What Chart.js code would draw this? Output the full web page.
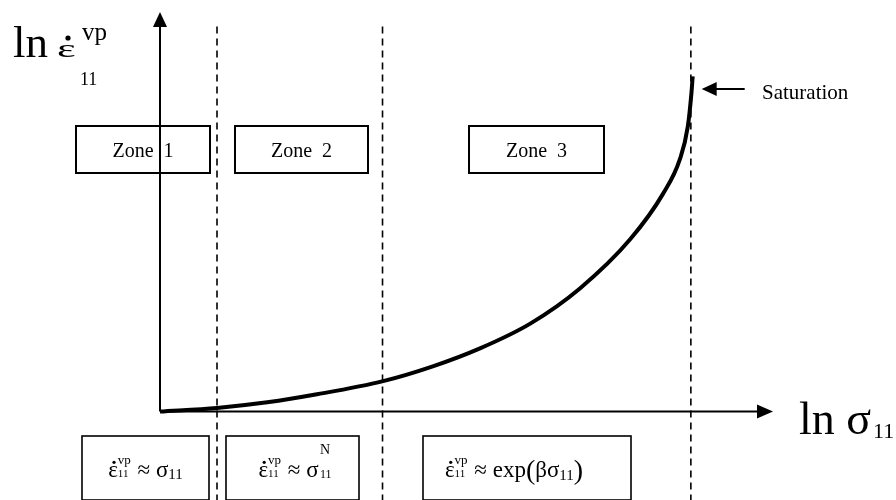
<!DOCTYPE html>
<html>
<head>
<meta charset="utf-8">
<script src="https://cdn.jsdelivr.net/npm/chart.js@4.4.1/dist/chart.umd.min.js"></script>
<style>
  html, body { margin: 0; padding: 0; background: #fff; }
  canvas { display: block; }
</style>
</head>
<body>
<canvas id="chart" width="896" height="500"></canvas>
<script>
// Кривая ln ε̇ = f(ln σ) (оси 0..100 условных единиц)
const curveX = [0, 9.3, 17.5, 25.6, 36.4, 44.5, 52.2, 60.4, 68.5, 76.7, 82.1, 84.8, 86.1, 86.7, 86.9];
const curveY = [0, 0.9, 2.3, 4.3, 7.6, 11.3, 15.8, 22.0, 30.8, 43.1, 54.6, 63.1, 71.3, 79.8, 83.9];

// Границы зон (пунктир)
const zoneBounds = [9.3, 36.3, 86.6];
const dashRange = [-22.5, 97.5];
const zoneNames = ['Zone  1', 'Zone  2', 'Zone  3'];

const SERIF = '"Liberation Serif", "Times New Roman", serif';
const font = s => s + 'px ' + SERIF;

// Рамки зон и формул в координатах осей
const zoneBoxes = [[-13.7, 8.2], [12.2, 33.9], [50.4, 72.4]];
const zoneBoxY = [71.5, 59.7];
const formulaBoxes = [[-12.7, 8.0], [10.8, 32.5], [42.9, 76.8]];
const formulaBoxY = [-6.1, -22.1];
const formulaShift = [0, 3, -13];

const eps = [{ t: 'ε', s: 23, dot: true }, { sup: 'vp', sub: '11', s: 13, subS: 11, supDy: -13, subDy: 0 }];
const formulas = [
    eps.concat([{ t: ' ≈ ', s: 23 }, { t: 'σ', s: 23 }, { t: '11', s: 15, dy: 2 }]),
    eps.concat([{ t: ' ≈ ', s: 23 }, { t: 'σ', s: 23 }, { t: ' ', s: 6 },
        { sup: 'N', sub: '11', s: 14, subS: 12, supDy: -23, subDy: 1 }]),
    eps.concat([{ t: ' ≈ ', s: 23 }, { t: 'exp', s: 23 }, { t: '(', s: 28, dy: 2 }, { t: 'βσ', s: 23 },
        { t: '11', s: 15, dy: 3 }, { t: ')', s: 28, dy: 2 }])
];

function runWidth(ctx, r) {
    ctx.font = font(r.s);
    if (r.sup !== undefined) {
        const a = ctx.measureText(r.sup).width;
        ctx.font = font(r.subS);
        return Math.max(a, ctx.measureText(r.sub).width) + 1;
    }
    return ctx.measureText(r.t).width;
}

function drawRuns(ctx, runs, cx, base) {
    let total = 0;
    runs.forEach(r => total += runWidth(ctx, r));
    let x = cx - total / 2;
    ctx.textAlign = 'left';
    ctx.textBaseline = 'alphabetic';
    runs.forEach(r => {
        const w = runWidth(ctx, r);
        if (r.sup !== undefined) {
            ctx.font = font(r.s);
            ctx.fillText(r.sup, x, base + r.supDy);
            ctx.font = font(r.subS);
            ctx.fillText(r.sub, x, base + r.subDy);
        } else {
            ctx.font = font(r.s);
            ctx.fillText(r.t, x, base + (r.dy || 0));
            if (r.dot) {
                ctx.beginPath();
                ctx.arc(x + w / 2 + 1, base - r.s * 0.64, r.s * 0.07, 0, Math.PI * 2);
                ctx.fill();
            }
        }
        x += w;
    });
}

function arrowHead(ctx, tx, ty, dir) {
    ctx.beginPath();
    if (dir === 'up') {
        ctx.moveTo(tx, ty); ctx.lineTo(tx - 7, ty + 15); ctx.lineTo(tx + 7, ty + 15);
    } else if (dir === 'right') {
        ctx.moveTo(tx, ty); ctx.lineTo(tx - 16, ty - 7); ctx.lineTo(tx - 16, ty + 7);
    } else {
        ctx.moveTo(tx, ty); ctx.lineTo(tx + 15, ty - 7); ctx.lineTo(tx + 15, ty + 7);
    }
    ctx.closePath();
    ctx.fill();
}

const diagram = {
    id: 'diagram',
    beforeDatasetsDraw(chart) {
        const { ctx, scales: { x, y } } = chart;
        const x0 = x.getPixelForValue(0), y0 = y.getPixelForValue(0);
        const xTip = x.getPixelForValue(100), yTip = y.getPixelForValue(100);
        ctx.save();
        ctx.strokeStyle = '#000';
        ctx.fillStyle = '#000';
        ctx.lineWidth = 2;
        ctx.beginPath();
        ctx.moveTo(x0, y0); ctx.lineTo(x0, yTip + 10);
        ctx.moveTo(x0, y0); ctx.lineTo(xTip - 10, y0);
        ctx.stroke();
        arrowHead(ctx, x0, yTip, 'up');
        arrowHead(ctx, xTip, y0, 'right');
        ctx.restore();
    },
    afterDatasetsDraw(chart) {
        const { ctx, scales: { x, y } } = chart;
        ctx.save();
        ctx.strokeStyle = '#000';
        ctx.fillStyle = '#000';

        // рамки "Zone"
        ctx.lineWidth = 2;
        const zt = Math.round(y.getPixelForValue(zoneBoxY[0])), zb = Math.round(y.getPixelForValue(zoneBoxY[1]));
        zoneBoxes.forEach((b, i) => {
            const l = Math.round(x.getPixelForValue(b[0])), r = Math.round(x.getPixelForValue(b[1]));
            ctx.strokeRect(l, zt, r - l, zb - zt);
            ctx.font = font(20);
            ctx.textAlign = 'center';
            ctx.textBaseline = 'alphabetic';
            ctx.fillText(zoneNames[i], (l + r) / 2, zt + 31);
        });

        // рамки формул
        ctx.lineWidth = 1.6;
        const ft = Math.round(y.getPixelForValue(formulaBoxY[0])), fb = Math.round(y.getPixelForValue(formulaBoxY[1]));
        formulaBoxes.forEach((b, i) => {
            const l = Math.round(x.getPixelForValue(b[0])), r = Math.round(x.getPixelForValue(b[1]));
            ctx.strokeRect(l, ft, r - l, fb - ft);
            drawRuns(ctx, formulas[i], (l + r) / 2 + formulaShift[i], ft + 41);
        });

        // подпись оси Y: ln ε̇ vp/11
        ctx.textAlign = 'left';
        ctx.textBaseline = 'alphabetic';
        ctx.font = font(45);
        ctx.fillText('ln', 13, 57);
        ctx.save();
        ctx.translate(57, 57);
        ctx.scale(1.7, 1);
        ctx.font = font(26);
        ctx.fillText('ε', 0, 0);
        ctx.restore();
        ctx.beginPath();
        ctx.arc(68, 38, 2.6, 0, Math.PI * 2);
        ctx.fill();
        ctx.font = font(25);
        ctx.fillText('vp', 82, 40);
        ctx.font = font(18);
        ctx.fillText('11', 80, 85);

        // подпись оси X: ln σ11
        ctx.font = font(46);
        ctx.fillText('ln σ', 799, 434);
        ctx.font = font(22);
        ctx.fillText('11', 873, 438);

        // Saturation
        const sx = x.getPixelForValue(curveX[curveX.length - 1]) + 9;
        const sy = 89;
        ctx.lineWidth = 2;
        ctx.beginPath();
        ctx.moveTo(sx + 10, sy); ctx.lineTo(sx + 43, sy);
        ctx.stroke();
        arrowHead(ctx, sx, sy, 'left');
        ctx.font = font(21);
        ctx.fillText('Saturation', 762, 99);
        ctx.restore();
    }
};

const dashSets = zoneBounds.map(b => ({
    data: [{ x: b, y: dashRange[0] }, { x: b, y: dashRange[1] }],
    borderColor: '#000',
    borderWidth: 1.6,
    borderDash: [7, 5],
    pointRadius: 0,
    showLine: true,
    clip: false,
    order: 2
}));

new Chart(document.getElementById('chart'), {
    type: 'scatter',
    data: {
        datasets: [{
            data: curveX.map((v, i) => ({ x: v, y: curveY[i] })),
            borderColor: '#000',
            borderWidth: 4,
            pointRadius: 0,
            showLine: true,
            cubicInterpolationMode: 'monotone',
            clip: false,
            order: 1
        }].concat(dashSets)
    },
    options: {
        responsive: false,
        animation: false,
        layout: { padding: { left: 160, right: 123, top: 12, bottom: 88.5 } },
        plugins: {
            legend: { display: false },
            tooltip: { enabled: false }
        },
        scales: {
            x: { type: 'linear', min: 0, max: 100, display: false },
            y: { type: 'linear', min: 0, max: 100, display: false }
        }
    },
    plugins: [diagram]
});
</script>
</body>
</html>
